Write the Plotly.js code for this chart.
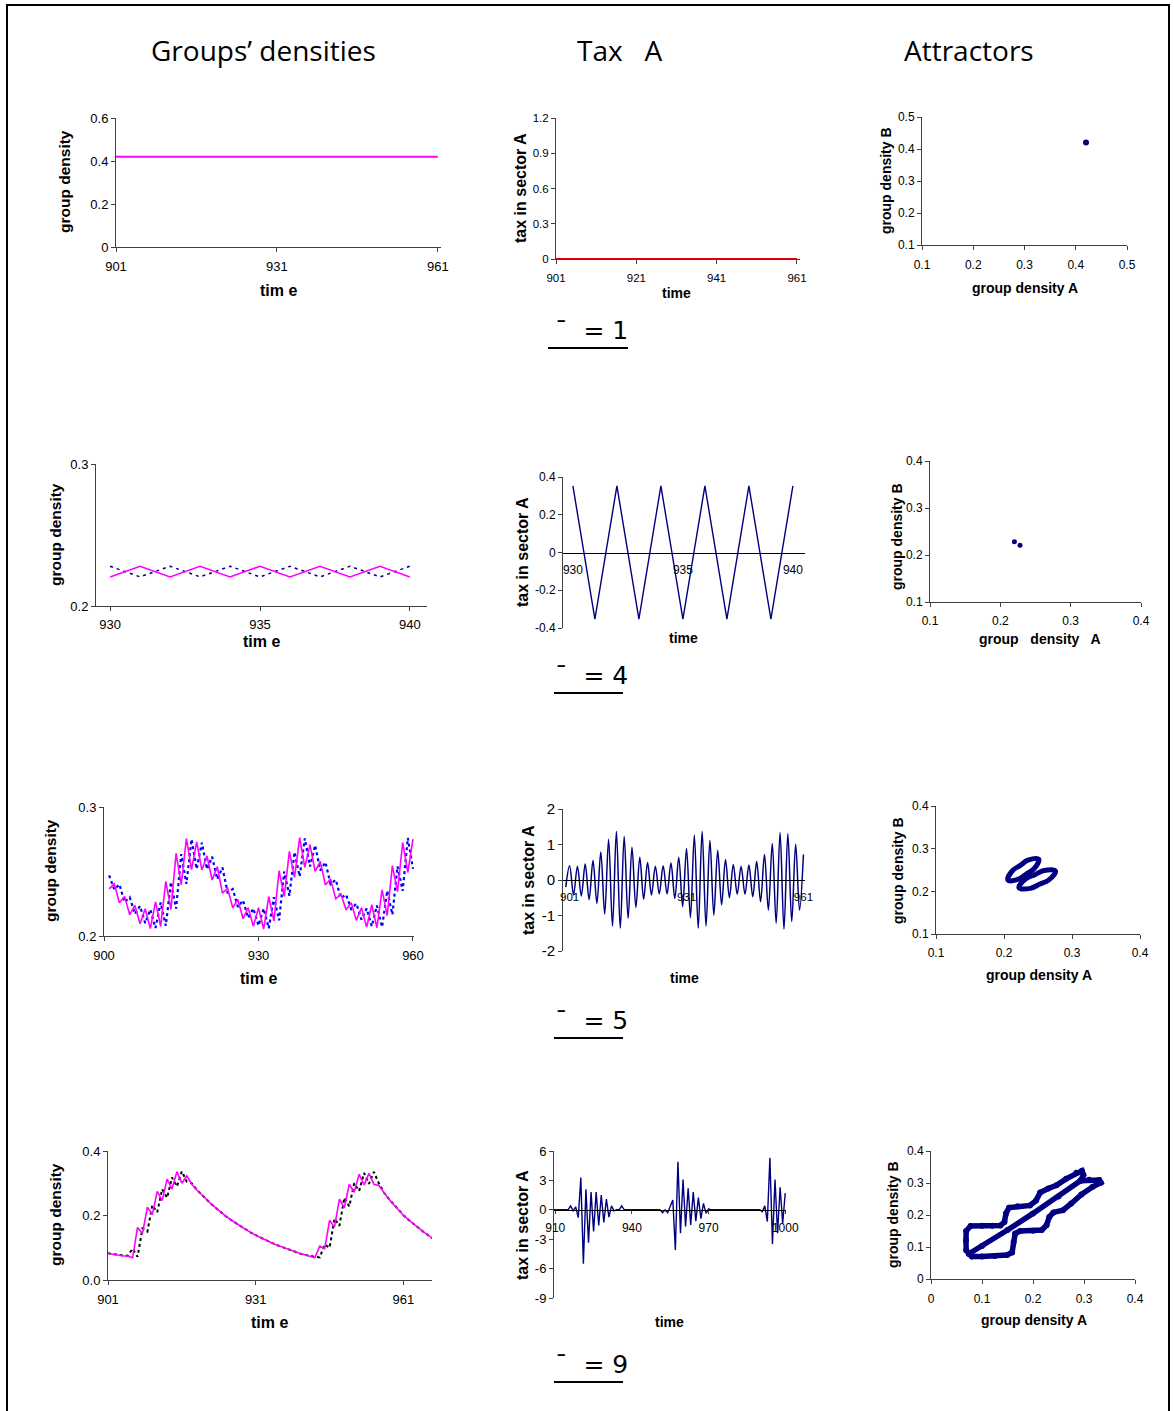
<!DOCTYPE html>
<html>
<head>
<meta charset="utf-8">
<script src="https://cdn.plot.ly/plotly-3.0.1.min.js"></script>
<style>html,body{margin:0;padding:0;background:#fff;}#chart{width:1174px;height:1411px;}</style>
</head>
<body>
<div id="chart"></div>
<script>
// ---------------- DATA ----------------
const colTitles = ["Groups\u2019 densities", "Tax\u00a0\u00a0 A", "Attractors"];
const betaLabels = ["\u00af\u00a0 = 1", "\u00af\u00a0 = 4", "\u00af\u00a0 = 5", "\u00af\u00a0 = 9"];

// Row 1 (beta = 1): fixed point
const time1 = [901, 961];
const dens1A = [0.42, 0.42];
const tax1 = [0, 0];
const attr1A = [0.42];
const attr1B = [0.42];

// Row 2 (beta = 4): period-2 cycle
const time2 = [930, 931, 932, 933, 934, 935, 936, 937, 938, 939, 940];
const dens2A = [0.2205, 0.228, 0.2205, 0.228, 0.2205, 0.228, 0.2205, 0.228, 0.2205, 0.228, 0.2205];
const dens2B = [0.228, 0.2205, 0.228, 0.2205, 0.228, 0.2205, 0.228, 0.2205, 0.228, 0.2205, 0.228];
const tax2 = [0.353, -0.353, 0.353, -0.353, 0.353, -0.353, 0.353, -0.353, 0.353, -0.353, 0.353];
const attr2A = [0.220, 0.228];
const attr2B = [0.228, 0.2205];

// Row 3 (beta = 5): quasi-periodic
const time3Start = 901;
const dens3A = [0.2365, 0.2404, 0.2257, 0.2306, 0.2165, 0.2237, 0.2095, 0.2211, 0.2057, 0.2265,
  0.2075, 0.2424, 0.2206, 0.2640, 0.2398, 0.2756, 0.2514, 0.2730, 0.2512, 0.2620,
  0.2434, 0.2537, 0.2332, 0.2370, 0.2219, 0.2283, 0.2134, 0.2219, 0.2075, 0.2219,
  0.2054, 0.2306, 0.2116, 0.2506, 0.2306, 0.2656, 0.2455, 0.2763, 0.2532, 0.2709,
  0.2501, 0.2578, 0.2396, 0.2442, 0.2288, 0.2326, 0.2203, 0.2257, 0.2121, 0.2219,
  0.2069, 0.2242, 0.2064, 0.2357, 0.2159, 0.2545, 0.2344, 0.2725, 0.2494, 0.2751];
const dens3B = [0.2470, 0.2360, 0.2400, 0.2262, 0.2300, 0.2170, 0.2232, 0.2100, 0.2205, 0.2062,
  0.2260, 0.2080, 0.2418, 0.2212, 0.2634, 0.2404, 0.2750, 0.2520, 0.2724, 0.2518,
  0.2614, 0.2440, 0.2531, 0.2338, 0.2364, 0.2225, 0.2277, 0.2140, 0.2213, 0.2081,
  0.2213, 0.2060, 0.2300, 0.2122, 0.2500, 0.2312, 0.2650, 0.2461, 0.2757, 0.2538,
  0.2703, 0.2507, 0.2572, 0.2402, 0.2436, 0.2294, 0.2320, 0.2209, 0.2251, 0.2127,
  0.2213, 0.2075, 0.2236, 0.2070, 0.2351, 0.2165, 0.2539, 0.2350, 0.2760, 0.2520];
const time3TaxStart = 900;
const tax3 = [-0.20,
  0.40, -0.42, 0.39, -0.45, 0.45, -0.55, 0.55, -0.66, 0.79, -0.96,
  1.15, -1.30, 1.37, -1.36, 1.23, -1.08, 0.92, -0.77, 0.64, -0.54,
  0.49, -0.42, 0.39, -0.39, 0.40, -0.39, 0.48, -0.52, 0.64, -0.75,
  0.89, -1.06, 1.27, -1.36, 1.37, -1.30, 1.12, -0.99, 0.84, -0.70,
  0.58, -0.50, 0.44, -0.40, 0.39, -0.40, 0.42, -0.47, 0.52, -0.61,
  0.72, -0.85, 1.03, -1.22, 1.34, -1.39, 1.31, -1.17, 1.01, -0.85, 0.72];
const attr3LoopA1 = [0.2058, 0.2127, 0.2240, 0.2353, 0.2510, 0.2441, 0.2328, 0.2215, 0.2058];
const attr3LoopB1 = [0.2263, 0.2488, 0.2608, 0.2730, 0.2752, 0.2529, 0.2407, 0.2287, 0.2263];
const attr3LoopA2 = [0.2220, 0.2321, 0.2455, 0.2589, 0.2756, 0.2656, 0.2521, 0.2387, 0.2220];
const attr3LoopB2 = [0.2085, 0.2294, 0.2391, 0.2488, 0.2473, 0.2263, 0.2166, 0.2070, 0.2085];

// Row 4 (beta = 9): relaxation bursts
const time4Start = 901;
const dens4A = [0.082, 0.079, 0.077, 0.075, 0.074, 0.069, 0.163, 0.144, 0.226, 0.203,
  0.275, 0.246, 0.313, 0.282, 0.336, 0.300, 0.323, 0.297, 0.280, 0.264,
  0.249, 0.235, 0.222, 0.209, 0.197, 0.186, 0.176, 0.166, 0.156, 0.147,
  0.139, 0.131, 0.124, 0.117, 0.110, 0.104, 0.098, 0.092, 0.087, 0.082,
  0.078, 0.073, 0.069, 0.105, 0.097, 0.185, 0.164, 0.251, 0.224, 0.297,
  0.272, 0.328, 0.295, 0.331, 0.297, 0.293, 0.272, 0.252, 0.234, 0.217,
  0.201, 0.187, 0.174, 0.162, 0.150, 0.139, 0.128];
const dens4B = [0.083, 0.080, 0.078, 0.076, 0.075, 0.097, 0.072, 0.160, 0.150, 0.232,
  0.210, 0.282, 0.255, 0.318, 0.290, 0.337, 0.305, 0.300, 0.280, 0.264,
  0.249, 0.235, 0.222, 0.209, 0.197, 0.186, 0.176, 0.166, 0.156, 0.147,
  0.139, 0.131, 0.124, 0.117, 0.110, 0.104, 0.098, 0.092, 0.087, 0.082,
  0.078, 0.074, 0.072, 0.070, 0.110, 0.100, 0.190, 0.168, 0.255, 0.228,
  0.300, 0.276, 0.332, 0.298, 0.335, 0.300, 0.272, 0.252, 0.234, 0.217,
  0.201, 0.187, 0.174, 0.162, 0.150, 0.139, 0.128];
const time4TaxStart = 909;
const tax4 = [0, 0, 0, 0, 0, 0, 0, 0.4, -0.1, 0.3,
  -0.8, 3.3, -5.5, 2.1, -3.35, 1.8, -2.2, 1.8, -1.6, 1.5,
  -1.3, 1.1, -0.75, 0.4, -0.1, 0, 0, 0.4, 0,
  0, 0, 0, 0, 0, 0, 0, 0, 0, 0, 0, 0, 0, 0,
  -0.3, 0, -0.3, 0.3, 1.0, -4.1, 4.9, -2.4, 3.1, -1.7,
  2.2, -1.55, 1.8, -1.15, 1.25, -0.9, 0.65, -0.35, 0.1,
  0, 0, 0, 0, 0, 0, 0, 0, 0, 0, 0, 0, 0, 0, 0, 0, 0, 0, 0,
  0, -0.2, 0.4, -1.2, 5.3, -3.5, 3.1, -2.4, 2.3, -1.4, 1.7];
const attr4UpperA = [0.0745, 0.0690, 0.0686, 0.0690, 0.0777, 0.1000, 0.1200, 0.1360, 0.1440, 0.1470,
  0.1530, 0.1700, 0.1940, 0.2060, 0.2140, 0.2300, 0.2460, 0.2650, 0.2850, 0.2960, 0.2990, 0.2930];
const attr4UpperB = [0.0790, 0.0900, 0.1200, 0.1500, 0.1660, 0.1665, 0.1665, 0.1670, 0.1780, 0.2050,
  0.2230, 0.2270, 0.2300, 0.2450, 0.2700, 0.2830, 0.2930, 0.3130, 0.3320, 0.3380, 0.3250, 0.3070];
const attr4LowerA = [0.0745, 0.0800, 0.1000, 0.1250, 0.1490, 0.1590, 0.1620, 0.1650, 0.1750, 0.2000,
  0.2170, 0.2265, 0.2320, 0.2400, 0.2590, 0.2750, 0.2950, 0.3170, 0.3330, 0.3300, 0.3100, 0.2930];
const attr4LowerB = [0.0790, 0.0700, 0.0700, 0.0720, 0.0750, 0.0830, 0.1160, 0.1420, 0.1500, 0.1510,
  0.1530, 0.1680, 0.1940, 0.2080, 0.2150, 0.2360, 0.2640, 0.2880, 0.3010, 0.3090, 0.3100, 0.3070];
const attr4DiagA = [0.0745, 0.1000, 0.1500, 0.2000, 0.2500, 0.2930];
const attr4DiagB = [0.0790, 0.1030, 0.1530, 0.2050, 0.2580, 0.3070];

// tick values / labels
const ticks = {
  d1x: [901, 931, 961], d1y: [0, 0.2, 0.4, 0.6], d1yt: ["0", "0.2", "0.4", "0.6"],
  t1x: [901, 921, 941, 961], t1y: [0, 0.3, 0.6, 0.9, 1.2], t1yt: ["0", "0.3", "0.6", "0.9", "1.2"],
  a1: [0.1, 0.2, 0.3, 0.4, 0.5], a1t: ["0.1", "0.2", "0.3", "0.4", "0.5"],
  d2x: [930, 935, 940], d2y: [0.2, 0.3], d2yt: ["0.2", "0.3"],
  t2x: [930, 935, 940], t2y: [-0.4, -0.2, 0, 0.2, 0.4], t2yt: ["-0.4", "-0.2", "0", "0.2", "0.4"],
  a2: [0.1, 0.2, 0.3, 0.4], a2t: ["0.1", "0.2", "0.3", "0.4"],
  d3x: [900, 930, 960], d3y: [0.2, 0.3], d3yt: ["0.2", "0.3"],
  t3x: [901, 931, 961], t3y: [-2, -1, 0, 1, 2], t3yt: ["-2", "-1", "0", "1", "2"],
  d4x: [901, 931, 961], d4y: [0, 0.2, 0.4], d4yt: ["0.0", "0.2", "0.4"],
  t4x: [910, 940, 970, 1000], t4y: [-9, -6, -3, 0, 3, 6], t4yt: ["-9", "-6", "-3", "0", "3", "6"],
  a4: [0, 0.1, 0.2, 0.3, 0.4], a4t: ["0", "0.1", "0.2", "0.3", "0.4"]
};

// ---------------- LAYOUT HELPERS ----------------
const W = 1174, H = 1411;
const px = v => v / W;
const py = v => 1 - v / H;
function seq(start, n) { const a = []; for (let i = 0; i < n; i++) a.push(start + i); return a; }

const AX = '#404040';
const FONT = 'Liberation Sans, Arial, sans-serif';
const layout = {
  width: W, height: H, margin: {l: 0, r: 0, t: 0, b: 0},
  paper_bgcolor: '#fff', plot_bgcolor: 'rgba(0,0,0,0)',
  showlegend: false, font: {family: FONT, color: '#000'},
  annotations: [], shapes: []
};
const traces = [];

function addPanel(i, box, xr, yr, xt, xtt, yt, ytt, opt) {
  opt = opt || {};
  const s = i === 1 ? '' : String(i);
  const fs = opt.fs || 11;
  const xa = {
    domain: [px(box[0]), px(box[1])], range: xr, showline: true, linecolor: opt.xlc || AX, linewidth: 1,
    ticks: 'outside', ticklen: opt.xticklen === undefined ? 4 : opt.xticklen, tickcolor: AX, tickwidth: 1,
    tickvals: xt, ticktext: xtt || xt.map(String), showgrid: false, zeroline: false,
    tickfont: {family: FONT, size: opt.xfs || fs, color: '#000'}, fixedrange: true,
    ticklabelstandoff: opt.standoff === undefined ? 3 : opt.standoff
  };
  if (opt.zeroPos !== undefined) {
    xa.anchor = 'free';
    const yPix = box[3] - (0 - yr[0]) / (yr[1] - yr[0]) * (box[3] - box[2]);
    xa.position = py(yPix);
  } else {
    xa.anchor = 'y' + s;
  }
  layout['xaxis' + s] = xa;
  layout['yaxis' + s] = {
    domain: [py(box[3]), py(box[2])], range: yr, anchor: 'x' + s, showline: true, linecolor: AX, linewidth: 1,
    ticks: 'outside', ticklen: 4, tickcolor: AX, tickwidth: 1, tickvals: yt, ticktext: ytt,
    showgrid: false, zeroline: false, tickfont: {family: FONT, size: opt.yfs || fs, color: '#000'}, fixedrange: true
  };
  return {x: 'x' + s, y: 'y' + s};
}
function ann(text, x, y, size, opts) {
  opts = opts || {};
  layout.annotations.push(Object.assign({
    text: text, x: px(x), y: py(y), xref: 'paper', yref: 'paper', showarrow: false,
    xanchor: 'center', yanchor: 'middle', font: {family: FONT, size: size, color: '#000'}
  }, opts));
}
function line(x0, y0, x1, y1, w) {
  layout.shapes.push({type: 'line', xref: 'paper', yref: 'paper', x0: px(x0), y0: py(y0), x1: px(x1), y1: py(y1),
    line: {color: '#000', width: w || 2}});
}

const PINK = '#FF00FF', NAVY = '#000080';

// ---------------- ROW 1 ----------------
let a = addPanel(1, [116, 441, 118, 247], [901, 961.6], [0, 0.6], ticks.d1x, null, ticks.d1y, ticks.d1yt, {fs: 13, standoff: 3});
traces.push({x: time1, y: dens1A, xaxis: a.x, yaxis: a.y, mode: 'lines', line: {color: PINK, width: 2}});
a = addPanel(2, [556, 800, 118, 259], [901, 961.75], [0, 1.2], ticks.t1x, null, ticks.t1y, ticks.t1yt, {fs: 11.5, standoff: 4});
traces.push({x: time1, y: tax1, xaxis: a.x, yaxis: a.y, mode: 'lines', line: {color: '#E00000', width: 2.2}, cliponaxis: false});
a = addPanel(3, [922, 1127, 117, 245], [0.1, 0.5], [0.1, 0.5], ticks.a1, ticks.a1t, ticks.a1, ticks.a1t, {fs: 12, standoff: 5});
traces.push({x: attr1A, y: attr1B, xaxis: a.x, yaxis: a.y, mode: 'markers', marker: {color: NAVY, size: 6}});

// ---------------- ROW 2 ----------------
a = addPanel(4, [96, 427, 464, 606], [929.53, 940.57], [0.2, 0.3], ticks.d2x, null, ticks.d2y, ticks.d2yt, {fs: 13, standoff: 2});
traces.push({x: time2, y: dens2B, xaxis: a.x, yaxis: a.y, mode: 'lines', line: {color: NAVY, width: 1.5, dash: '3px,4px'}});
traces.push({x: time2, y: dens2A, xaxis: a.x, yaxis: a.y, mode: 'lines', line: {color: PINK, width: 1.6}});
a = addPanel(5, [563, 805, 477, 628], [929.55, 940.55], [-0.4, 0.4], ticks.t2x, null, ticks.t2y, ticks.t2yt,
  {fs: 12, zeroPos: true, xlc: '#000', xticklen: 0, standoff: 6});
traces.push({x: time2, y: tax2, xaxis: a.x, yaxis: a.y, mode: 'lines', line: {color: NAVY, width: 1.4}});
a = addPanel(6, [930, 1141, 461, 602], [0.1, 0.4], [0.1, 0.4], ticks.a2, ticks.a2t, ticks.a2, ticks.a2t, {fs: 12, standoff: 4});
traces.push({x: attr2A, y: attr2B, xaxis: a.x, yaxis: a.y, mode: 'markers', marker: {color: NAVY, size: 5}});

// ---------------- ROW 3 ----------------
a = addPanel(7, [104, 414, 807, 936], [900, 960.2], [0.2, 0.3], ticks.d3x, null, ticks.d3y, ticks.d3yt, {fs: 13, standoff: 3});
traces.push({x: seq(time3Start, dens3B.length), y: dens3B, xaxis: a.x, yaxis: a.y, mode: 'lines', line: {color: '#0000FF', width: 2.2, dash: 'dot'}});
traces.push({x: seq(time3Start, dens3A.length), y: dens3A, xaxis: a.x, yaxis: a.y, mode: 'lines', line: {color: PINK, width: 1.6}});
a = addPanel(8, [563, 805, 809, 951], [899.3, 961.4], [-2, 2], ticks.t3x, null, ticks.t3y, ticks.t3yt,
  {fs: 11.5, yfs: 15, zeroPos: true, xlc: '#000', xticklen: 0, standoff: 6});
traces.push({x: seq(time3TaxStart, tax3.length), y: tax3, xaxis: a.x, yaxis: a.y, mode: 'lines',
  line: {color: NAVY, width: 1.5, shape: 'spline', smoothing: 1}});
a = addPanel(9, [936, 1140, 806, 934], [0.1, 0.4], [0.1, 0.4], ticks.a2, ticks.a2t, ticks.a2, ticks.a2t, {fs: 12, standoff: 4});
traces.push({x: attr3LoopA1, y: attr3LoopB1, xaxis: a.x, yaxis: a.y, mode: 'lines', line: {color: NAVY, width: 5, shape: 'spline', smoothing: 1.2}});
traces.push({x: attr3LoopA2, y: attr3LoopB2, xaxis: a.x, yaxis: a.y, mode: 'lines', line: {color: NAVY, width: 5, shape: 'spline', smoothing: 1.2}});

// ---------------- ROW 4 ----------------
a = addPanel(10, [108, 432, 1151, 1280], [901, 966.8], [0, 0.4], ticks.d4x, null, ticks.d4y, ticks.d4yt, {fs: 13, standoff: 3});
traces.push({x: seq(time4Start, dens4B.length), y: dens4B, xaxis: a.x, yaxis: a.y, mode: 'lines', line: {color: '#000', width: 2, dash: 'dot'}});
traces.push({x: seq(time4Start, dens4A.length), y: dens4A, xaxis: a.x, yaxis: a.y, mode: 'lines', line: {color: PINK, width: 1.6}});
a = addPanel(11, [554, 786, 1151, 1298], [909.5, 1000.3], [-9, 6], ticks.t4x, null, ticks.t4y, ticks.t4yt,
  {fs: 12, yfs: 13, zeroPos: true, xlc: '#000', xticklen: 3, standoff: 4});
traces.push({x: seq(time4TaxStart, tax4.length), y: tax4, xaxis: a.x, yaxis: a.y, mode: 'lines', line: {color: NAVY, width: 1.4}});
a = addPanel(12, [931, 1135, 1151, 1279], [0, 0.4], [0, 0.4], ticks.a4, ticks.a4t, ticks.a4, ticks.a4t, {fs: 12, standoff: 5});
[[attr4DiagA, attr4DiagB], [attr4UpperA, attr4UpperB], [attr4LowerA, attr4LowerB]].forEach(p => {
  traces.push({x: p[0], y: p[1], xaxis: a.x, yaxis: a.y, mode: 'lines+markers',
    line: {color: NAVY, width: 5.5}, marker: {color: NAVY, size: 6}});
});

// ---------------- TEXT ----------------
const HF = 'Open Sans, Noto Sans, sans-serif';
const hfont = {family: HF, size: 28, color: '#000'};
ann(colTitles[0], 263, 50, 28, {font: hfont});
ann(colTitles[1], 619, 50, 28, {font: hfont});
ann(colTitles[2], 969, 50, 28, {font: hfont});

const yT = (t, x, y, s) => ann('<b>' + t + '</b>', x, y, s || 15.5, {textangle: -90});
const xT = (t, x, y, s) => ann('<b>' + t + '</b>', x, y, s || 16);

// row 1
yT('group density', 64, 182); xT('tim e', 278, 290);
yT('tax in sector A', 520, 188, 16); xT('time', 676, 293, 14);
yT('group density B', 886, 181, 14); xT('group density A', 1025, 288, 14);
// row 2
yT('group density', 55, 535); xT('tim e', 261, 641);
yT('tax in sector A', 522, 552, 16); xT('time', 683, 638, 14);
yT('group density B', 897, 537, 14); xT('group\u00a0\u00a0 density\u00a0\u00a0 A', 1040, 639, 14);
// row 3
yT('group density', 50, 871); xT('tim e', 258, 978);
yT('tax in sector A', 528, 880, 16); xT('time', 684, 978, 14);
yT('group density B', 898, 871, 14); xT('group density A', 1039, 975, 14);
// row 4
yT('group density', 55, 1215); xT('tim e', 269, 1322);
yT('tax in sector A', 522, 1225, 16); xT('time', 669, 1322, 14);
yT('group density B', 893, 1215, 14); xT('group density A', 1034, 1320, 14);

// beta labels with underline
const betaY = [330, 675, 1020, 1364];
const betaX = [[548, 628], [554, 623], [554, 623], [554, 623]];
betaLabels.forEach((t, k) => {
  ann(t, 592, betaY[k], 26, {font: {family: 'DejaVu Sans, sans-serif', size: 25, color: '#000'}});
  line(betaX[k][0], betaY[k] + 18, betaX[k][1], betaY[k] + 18, 2);
});

// page frame
layout.shapes.push({type: 'rect', xref: 'paper', yref: 'paper', x0: px(7), x1: px(1169), y0: -0.02, y1: py(5),
  line: {color: '#000', width: 2}, fillcolor: 'rgba(0,0,0,0)'});

Plotly.newPlot('chart', traces, layout, {staticPlot: true, displayModeBar: false});
</script>
</body>
</html>
